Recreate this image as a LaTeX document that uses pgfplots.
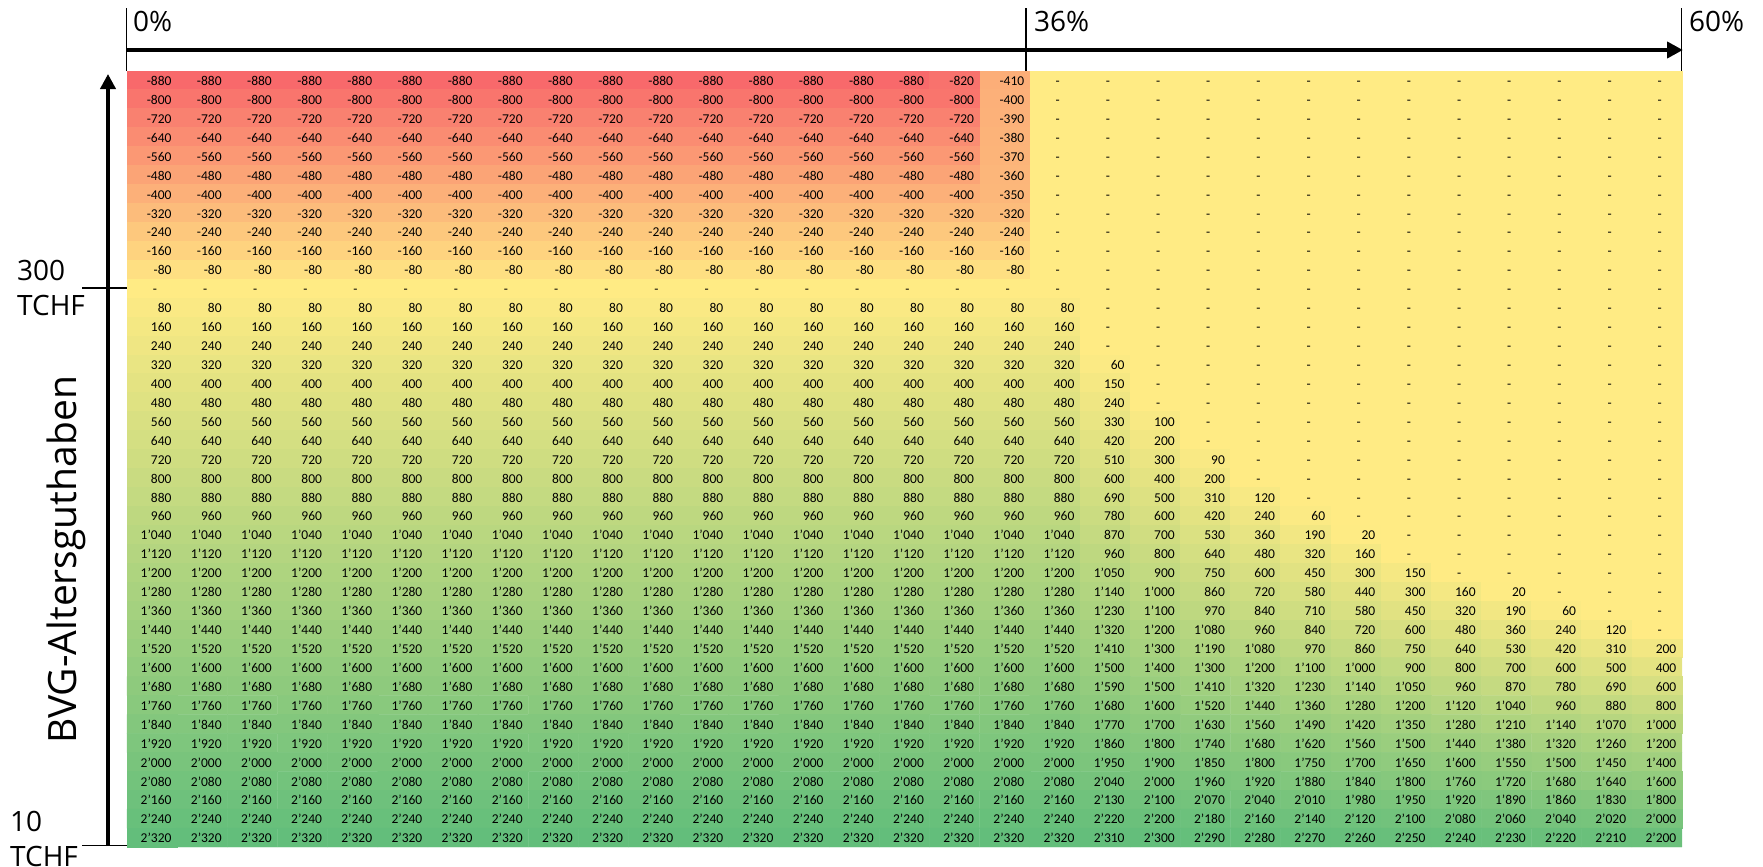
\documentclass[border=0pt]{standalone}
\usepackage{fontspec}
\setmainfont{Carlito}
\newfontfamily\labfont{Open Sans}
\usepackage{pgfplots}
\usepackage{pgfplotstable}
\pgfplotsset{compat=1.18}
\usetikzlibrary{arrows.meta}

% one value per cell, 31 cells per line (row by row, top to bottom); 0 is shown as "-"
\pgfplotstableread[row sep=\\]{
v\\
-880\\ -880\\ -880\\ -880\\ -880\\ -880\\ -880\\ -880\\ -880\\ -880\\ -880\\ -880\\ -880\\ -880\\ -880\\ -880\\ -820\\ -410\\ 0\\ 0\\ 0\\ 0\\ 0\\ 0\\ 0\\ 0\\ 0\\ 0\\ 0\\ 0\\ 0\\
-800\\ -800\\ -800\\ -800\\ -800\\ -800\\ -800\\ -800\\ -800\\ -800\\ -800\\ -800\\ -800\\ -800\\ -800\\ -800\\ -800\\ -400\\ 0\\ 0\\ 0\\ 0\\ 0\\ 0\\ 0\\ 0\\ 0\\ 0\\ 0\\ 0\\ 0\\
-720\\ -720\\ -720\\ -720\\ -720\\ -720\\ -720\\ -720\\ -720\\ -720\\ -720\\ -720\\ -720\\ -720\\ -720\\ -720\\ -720\\ -390\\ 0\\ 0\\ 0\\ 0\\ 0\\ 0\\ 0\\ 0\\ 0\\ 0\\ 0\\ 0\\ 0\\
-640\\ -640\\ -640\\ -640\\ -640\\ -640\\ -640\\ -640\\ -640\\ -640\\ -640\\ -640\\ -640\\ -640\\ -640\\ -640\\ -640\\ -380\\ 0\\ 0\\ 0\\ 0\\ 0\\ 0\\ 0\\ 0\\ 0\\ 0\\ 0\\ 0\\ 0\\
-560\\ -560\\ -560\\ -560\\ -560\\ -560\\ -560\\ -560\\ -560\\ -560\\ -560\\ -560\\ -560\\ -560\\ -560\\ -560\\ -560\\ -370\\ 0\\ 0\\ 0\\ 0\\ 0\\ 0\\ 0\\ 0\\ 0\\ 0\\ 0\\ 0\\ 0\\
-480\\ -480\\ -480\\ -480\\ -480\\ -480\\ -480\\ -480\\ -480\\ -480\\ -480\\ -480\\ -480\\ -480\\ -480\\ -480\\ -480\\ -360\\ 0\\ 0\\ 0\\ 0\\ 0\\ 0\\ 0\\ 0\\ 0\\ 0\\ 0\\ 0\\ 0\\
-400\\ -400\\ -400\\ -400\\ -400\\ -400\\ -400\\ -400\\ -400\\ -400\\ -400\\ -400\\ -400\\ -400\\ -400\\ -400\\ -400\\ -350\\ 0\\ 0\\ 0\\ 0\\ 0\\ 0\\ 0\\ 0\\ 0\\ 0\\ 0\\ 0\\ 0\\
-320\\ -320\\ -320\\ -320\\ -320\\ -320\\ -320\\ -320\\ -320\\ -320\\ -320\\ -320\\ -320\\ -320\\ -320\\ -320\\ -320\\ -320\\ 0\\ 0\\ 0\\ 0\\ 0\\ 0\\ 0\\ 0\\ 0\\ 0\\ 0\\ 0\\ 0\\
-240\\ -240\\ -240\\ -240\\ -240\\ -240\\ -240\\ -240\\ -240\\ -240\\ -240\\ -240\\ -240\\ -240\\ -240\\ -240\\ -240\\ -240\\ 0\\ 0\\ 0\\ 0\\ 0\\ 0\\ 0\\ 0\\ 0\\ 0\\ 0\\ 0\\ 0\\
-160\\ -160\\ -160\\ -160\\ -160\\ -160\\ -160\\ -160\\ -160\\ -160\\ -160\\ -160\\ -160\\ -160\\ -160\\ -160\\ -160\\ -160\\ 0\\ 0\\ 0\\ 0\\ 0\\ 0\\ 0\\ 0\\ 0\\ 0\\ 0\\ 0\\ 0\\
-80\\ -80\\ -80\\ -80\\ -80\\ -80\\ -80\\ -80\\ -80\\ -80\\ -80\\ -80\\ -80\\ -80\\ -80\\ -80\\ -80\\ -80\\ 0\\ 0\\ 0\\ 0\\ 0\\ 0\\ 0\\ 0\\ 0\\ 0\\ 0\\ 0\\ 0\\
0\\ 0\\ 0\\ 0\\ 0\\ 0\\ 0\\ 0\\ 0\\ 0\\ 0\\ 0\\ 0\\ 0\\ 0\\ 0\\ 0\\ 0\\ 0\\ 0\\ 0\\ 0\\ 0\\ 0\\ 0\\ 0\\ 0\\ 0\\ 0\\ 0\\ 0\\
80\\ 80\\ 80\\ 80\\ 80\\ 80\\ 80\\ 80\\ 80\\ 80\\ 80\\ 80\\ 80\\ 80\\ 80\\ 80\\ 80\\ 80\\ 80\\ 0\\ 0\\ 0\\ 0\\ 0\\ 0\\ 0\\ 0\\ 0\\ 0\\ 0\\ 0\\
160\\ 160\\ 160\\ 160\\ 160\\ 160\\ 160\\ 160\\ 160\\ 160\\ 160\\ 160\\ 160\\ 160\\ 160\\ 160\\ 160\\ 160\\ 160\\ 0\\ 0\\ 0\\ 0\\ 0\\ 0\\ 0\\ 0\\ 0\\ 0\\ 0\\ 0\\
240\\ 240\\ 240\\ 240\\ 240\\ 240\\ 240\\ 240\\ 240\\ 240\\ 240\\ 240\\ 240\\ 240\\ 240\\ 240\\ 240\\ 240\\ 240\\ 0\\ 0\\ 0\\ 0\\ 0\\ 0\\ 0\\ 0\\ 0\\ 0\\ 0\\ 0\\
320\\ 320\\ 320\\ 320\\ 320\\ 320\\ 320\\ 320\\ 320\\ 320\\ 320\\ 320\\ 320\\ 320\\ 320\\ 320\\ 320\\ 320\\ 320\\ 60\\ 0\\ 0\\ 0\\ 0\\ 0\\ 0\\ 0\\ 0\\ 0\\ 0\\ 0\\
400\\ 400\\ 400\\ 400\\ 400\\ 400\\ 400\\ 400\\ 400\\ 400\\ 400\\ 400\\ 400\\ 400\\ 400\\ 400\\ 400\\ 400\\ 400\\ 150\\ 0\\ 0\\ 0\\ 0\\ 0\\ 0\\ 0\\ 0\\ 0\\ 0\\ 0\\
480\\ 480\\ 480\\ 480\\ 480\\ 480\\ 480\\ 480\\ 480\\ 480\\ 480\\ 480\\ 480\\ 480\\ 480\\ 480\\ 480\\ 480\\ 480\\ 240\\ 0\\ 0\\ 0\\ 0\\ 0\\ 0\\ 0\\ 0\\ 0\\ 0\\ 0\\
560\\ 560\\ 560\\ 560\\ 560\\ 560\\ 560\\ 560\\ 560\\ 560\\ 560\\ 560\\ 560\\ 560\\ 560\\ 560\\ 560\\ 560\\ 560\\ 330\\ 100\\ 0\\ 0\\ 0\\ 0\\ 0\\ 0\\ 0\\ 0\\ 0\\ 0\\
640\\ 640\\ 640\\ 640\\ 640\\ 640\\ 640\\ 640\\ 640\\ 640\\ 640\\ 640\\ 640\\ 640\\ 640\\ 640\\ 640\\ 640\\ 640\\ 420\\ 200\\ 0\\ 0\\ 0\\ 0\\ 0\\ 0\\ 0\\ 0\\ 0\\ 0\\
720\\ 720\\ 720\\ 720\\ 720\\ 720\\ 720\\ 720\\ 720\\ 720\\ 720\\ 720\\ 720\\ 720\\ 720\\ 720\\ 720\\ 720\\ 720\\ 510\\ 300\\ 90\\ 0\\ 0\\ 0\\ 0\\ 0\\ 0\\ 0\\ 0\\ 0\\
800\\ 800\\ 800\\ 800\\ 800\\ 800\\ 800\\ 800\\ 800\\ 800\\ 800\\ 800\\ 800\\ 800\\ 800\\ 800\\ 800\\ 800\\ 800\\ 600\\ 400\\ 200\\ 0\\ 0\\ 0\\ 0\\ 0\\ 0\\ 0\\ 0\\ 0\\
880\\ 880\\ 880\\ 880\\ 880\\ 880\\ 880\\ 880\\ 880\\ 880\\ 880\\ 880\\ 880\\ 880\\ 880\\ 880\\ 880\\ 880\\ 880\\ 690\\ 500\\ 310\\ 120\\ 0\\ 0\\ 0\\ 0\\ 0\\ 0\\ 0\\ 0\\
960\\ 960\\ 960\\ 960\\ 960\\ 960\\ 960\\ 960\\ 960\\ 960\\ 960\\ 960\\ 960\\ 960\\ 960\\ 960\\ 960\\ 960\\ 960\\ 780\\ 600\\ 420\\ 240\\ 60\\ 0\\ 0\\ 0\\ 0\\ 0\\ 0\\ 0\\
1040\\ 1040\\ 1040\\ 1040\\ 1040\\ 1040\\ 1040\\ 1040\\ 1040\\ 1040\\ 1040\\ 1040\\ 1040\\ 1040\\ 1040\\ 1040\\ 1040\\ 1040\\ 1040\\ 870\\ 700\\ 530\\ 360\\ 190\\ 20\\ 0\\ 0\\ 0\\ 0\\ 0\\ 0\\
1120\\ 1120\\ 1120\\ 1120\\ 1120\\ 1120\\ 1120\\ 1120\\ 1120\\ 1120\\ 1120\\ 1120\\ 1120\\ 1120\\ 1120\\ 1120\\ 1120\\ 1120\\ 1120\\ 960\\ 800\\ 640\\ 480\\ 320\\ 160\\ 0\\ 0\\ 0\\ 0\\ 0\\ 0\\
1200\\ 1200\\ 1200\\ 1200\\ 1200\\ 1200\\ 1200\\ 1200\\ 1200\\ 1200\\ 1200\\ 1200\\ 1200\\ 1200\\ 1200\\ 1200\\ 1200\\ 1200\\ 1200\\ 1050\\ 900\\ 750\\ 600\\ 450\\ 300\\ 150\\ 0\\ 0\\ 0\\ 0\\ 0\\
1280\\ 1280\\ 1280\\ 1280\\ 1280\\ 1280\\ 1280\\ 1280\\ 1280\\ 1280\\ 1280\\ 1280\\ 1280\\ 1280\\ 1280\\ 1280\\ 1280\\ 1280\\ 1280\\ 1140\\ 1000\\ 860\\ 720\\ 580\\ 440\\ 300\\ 160\\ 20\\ 0\\ 0\\ 0\\
1360\\ 1360\\ 1360\\ 1360\\ 1360\\ 1360\\ 1360\\ 1360\\ 1360\\ 1360\\ 1360\\ 1360\\ 1360\\ 1360\\ 1360\\ 1360\\ 1360\\ 1360\\ 1360\\ 1230\\ 1100\\ 970\\ 840\\ 710\\ 580\\ 450\\ 320\\ 190\\ 60\\ 0\\ 0\\
1440\\ 1440\\ 1440\\ 1440\\ 1440\\ 1440\\ 1440\\ 1440\\ 1440\\ 1440\\ 1440\\ 1440\\ 1440\\ 1440\\ 1440\\ 1440\\ 1440\\ 1440\\ 1440\\ 1320\\ 1200\\ 1080\\ 960\\ 840\\ 720\\ 600\\ 480\\ 360\\ 240\\ 120\\ 0\\
1520\\ 1520\\ 1520\\ 1520\\ 1520\\ 1520\\ 1520\\ 1520\\ 1520\\ 1520\\ 1520\\ 1520\\ 1520\\ 1520\\ 1520\\ 1520\\ 1520\\ 1520\\ 1520\\ 1410\\ 1300\\ 1190\\ 1080\\ 970\\ 860\\ 750\\ 640\\ 530\\ 420\\ 310\\ 200\\
1600\\ 1600\\ 1600\\ 1600\\ 1600\\ 1600\\ 1600\\ 1600\\ 1600\\ 1600\\ 1600\\ 1600\\ 1600\\ 1600\\ 1600\\ 1600\\ 1600\\ 1600\\ 1600\\ 1500\\ 1400\\ 1300\\ 1200\\ 1100\\ 1000\\ 900\\ 800\\ 700\\ 600\\ 500\\ 400\\
1680\\ 1680\\ 1680\\ 1680\\ 1680\\ 1680\\ 1680\\ 1680\\ 1680\\ 1680\\ 1680\\ 1680\\ 1680\\ 1680\\ 1680\\ 1680\\ 1680\\ 1680\\ 1680\\ 1590\\ 1500\\ 1410\\ 1320\\ 1230\\ 1140\\ 1050\\ 960\\ 870\\ 780\\ 690\\ 600\\
1760\\ 1760\\ 1760\\ 1760\\ 1760\\ 1760\\ 1760\\ 1760\\ 1760\\ 1760\\ 1760\\ 1760\\ 1760\\ 1760\\ 1760\\ 1760\\ 1760\\ 1760\\ 1760\\ 1680\\ 1600\\ 1520\\ 1440\\ 1360\\ 1280\\ 1200\\ 1120\\ 1040\\ 960\\ 880\\ 800\\
1840\\ 1840\\ 1840\\ 1840\\ 1840\\ 1840\\ 1840\\ 1840\\ 1840\\ 1840\\ 1840\\ 1840\\ 1840\\ 1840\\ 1840\\ 1840\\ 1840\\ 1840\\ 1840\\ 1770\\ 1700\\ 1630\\ 1560\\ 1490\\ 1420\\ 1350\\ 1280\\ 1210\\ 1140\\ 1070\\ 1000\\
1920\\ 1920\\ 1920\\ 1920\\ 1920\\ 1920\\ 1920\\ 1920\\ 1920\\ 1920\\ 1920\\ 1920\\ 1920\\ 1920\\ 1920\\ 1920\\ 1920\\ 1920\\ 1920\\ 1860\\ 1800\\ 1740\\ 1680\\ 1620\\ 1560\\ 1500\\ 1440\\ 1380\\ 1320\\ 1260\\ 1200\\
2000\\ 2000\\ 2000\\ 2000\\ 2000\\ 2000\\ 2000\\ 2000\\ 2000\\ 2000\\ 2000\\ 2000\\ 2000\\ 2000\\ 2000\\ 2000\\ 2000\\ 2000\\ 2000\\ 1950\\ 1900\\ 1850\\ 1800\\ 1750\\ 1700\\ 1650\\ 1600\\ 1550\\ 1500\\ 1450\\ 1400\\
2080\\ 2080\\ 2080\\ 2080\\ 2080\\ 2080\\ 2080\\ 2080\\ 2080\\ 2080\\ 2080\\ 2080\\ 2080\\ 2080\\ 2080\\ 2080\\ 2080\\ 2080\\ 2080\\ 2040\\ 2000\\ 1960\\ 1920\\ 1880\\ 1840\\ 1800\\ 1760\\ 1720\\ 1680\\ 1640\\ 1600\\
2160\\ 2160\\ 2160\\ 2160\\ 2160\\ 2160\\ 2160\\ 2160\\ 2160\\ 2160\\ 2160\\ 2160\\ 2160\\ 2160\\ 2160\\ 2160\\ 2160\\ 2160\\ 2160\\ 2130\\ 2100\\ 2070\\ 2040\\ 2010\\ 1980\\ 1950\\ 1920\\ 1890\\ 1860\\ 1830\\ 1800\\
2240\\ 2240\\ 2240\\ 2240\\ 2240\\ 2240\\ 2240\\ 2240\\ 2240\\ 2240\\ 2240\\ 2240\\ 2240\\ 2240\\ 2240\\ 2240\\ 2240\\ 2240\\ 2240\\ 2220\\ 2200\\ 2180\\ 2160\\ 2140\\ 2120\\ 2100\\ 2080\\ 2060\\ 2040\\ 2020\\ 2000\\
2320\\ 2320\\ 2320\\ 2320\\ 2320\\ 2320\\ 2320\\ 2320\\ 2320\\ 2320\\ 2320\\ 2320\\ 2320\\ 2320\\ 2320\\ 2320\\ 2320\\ 2320\\ 2320\\ 2310\\ 2300\\ 2290\\ 2280\\ 2270\\ 2260\\ 2250\\ 2240\\ 2230\\ 2220\\ 2210\\ 2200\\
}\datatable

\begin{document}
\begin{tikzpicture}
\useasboundingbox (0,0) rectangle (1763bp,-867bp);
\begin{axis}[
    at={(127bp,-70.7bp)}, anchor=north west,
    width=1555bp, height=776.3bp, scale only axis,
    xmin=-0.5, xmax=30.5, ymin=-0.5, ymax=40.5, y dir=reverse,
    hide axis, clip=false,
    colormap={excel}{[1cm] rgb255(0cm)=(248,105,107) rgb255(11cm)=(255,235,132) rgb255(40cm)=(99,190,123)},
    point meta min=-880, point meta max=2320,
    ]
    \addplot[matrix plot*, mesh/cols=31, point meta=explicit]
        table[x index=0, y index=0, x expr={mod(\coordindex,31)}, y expr={round((\coordindex-mod(\coordindex,31))/31)}, meta=v] {\datatable};
    \addplot[only marks, mark=none, point meta=explicit symbolic,
        nodes near coords={\ifnum\pgfplotspointmeta=0 -\kern14.5bp\else\pgfmathprintnumber[fixed,precision=0,1000 sep={’},assume math mode=true]{\pgfplotspointmeta}\fi},
        every node near coord/.append style={anchor=base east, inner sep=0pt, xshift=19.6bp, yshift=-5.3bp,
            font=\fontsize{13.5bp}{16bp}\selectfont, text=black}]
        table[x index=0, y index=0, x expr={mod(\coordindex,31)}, y expr={round((\coordindex-mod(\coordindex,31))/31)}, meta=v] {\datatable};
\end{axis}
\begin{scope}[x=1bp, y=1bp, font=\labfont\fontsize{28bp}{33bp}\selectfont]
    % top scale
    \draw[line width=1.3] (126.5,-8) -- (126.5,-71);
    \draw[line width=1.3] (1026,-8) -- (1026,-71);
    \draw[line width=1.3] (1681.5,-8) -- (1681.5,-71);
    \draw[line width=4, -{Triangle[length=16bp, width=16bp]}] (127,-50) -- (1683,-50);
    \node[anchor=base west, inner sep=0] at (133,-31) {0\%};
    \node[anchor=base west, inner sep=0] at (1034,-31) {36\%};
    \node[anchor=base west, inner sep=0] at (1689,-31) {60\%};
    % left scale
    \draw[line width=3.7, -{Triangle[length=15bp, width=15bp]}] (108,-846) -- (108,-74);
    \draw[line width=1.3] (82,-288) -- (127,-288);
    \draw[line width=1.3] (82,-845.5) -- (127,-845.5);
    \node[anchor=base west, inner sep=0] at (17,-280) {300};
    \node[anchor=base west, inner sep=0] at (17,-315) {TCHF};
    \node[anchor=base west, inner sep=0] at (10,-831) {10};
    \node[anchor=base west, inner sep=0] at (10,-866) {TCHF};
    \node[rotate=90, anchor=base, inner sep=0, font=\labfont\fontsize{39bp}{45bp}\selectfont] at (76,-560) {BVG-Altersguthaben};
\end{scope}
\end{tikzpicture}
\end{document}
